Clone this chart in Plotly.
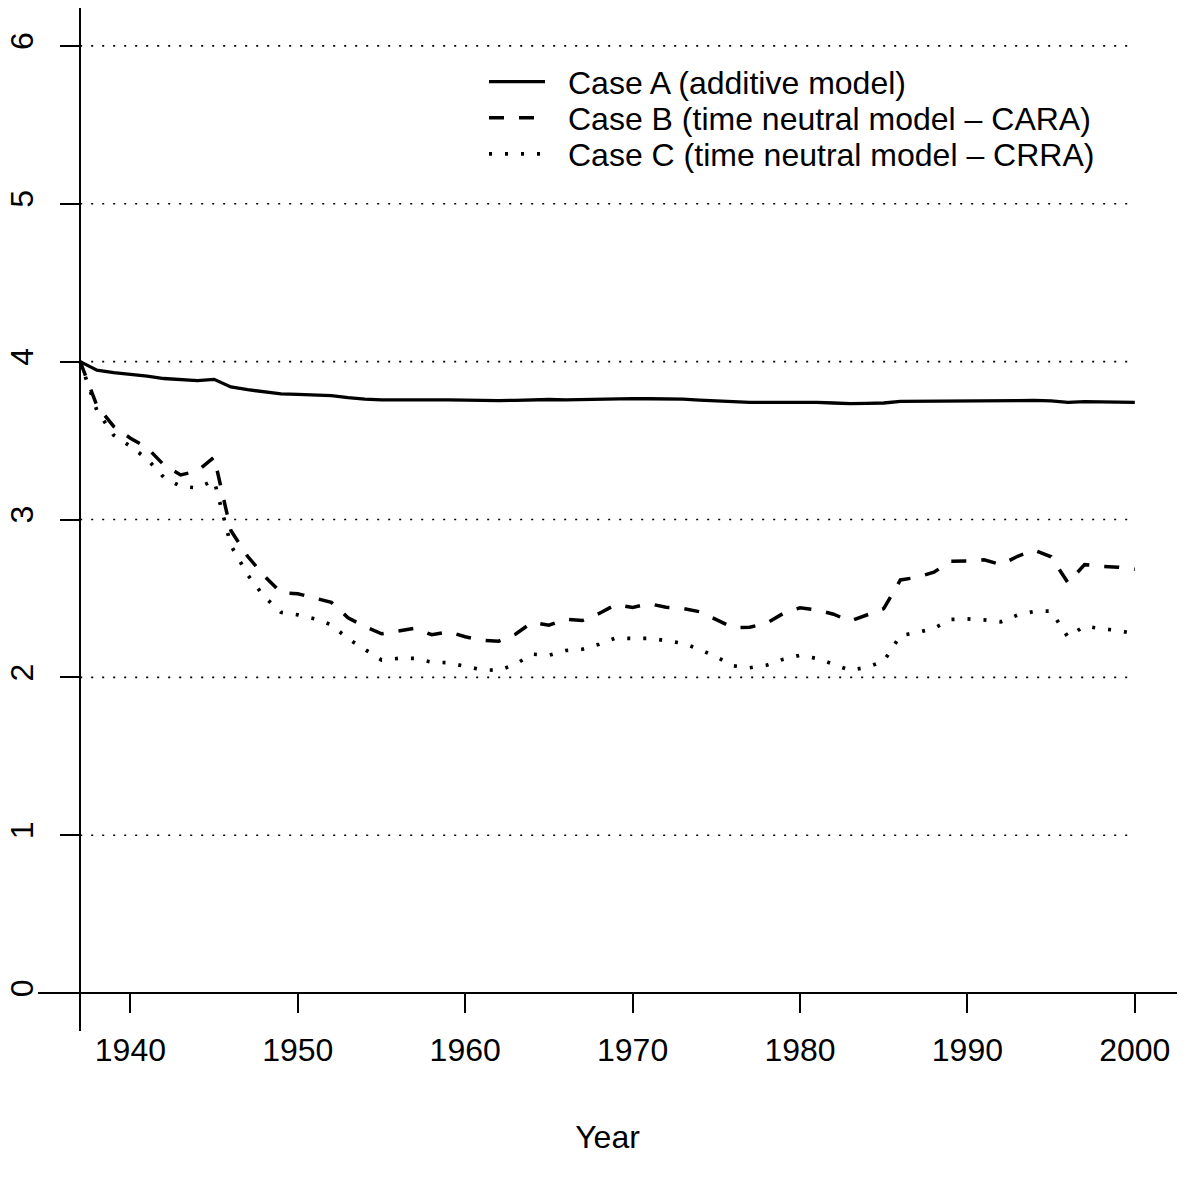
import plotly.graph_objects as go

# Annual series, 1937-2000
years = list(range(1937, 2001))

case_a = [
    4.000, 3.946, 3.930, 3.921, 3.908, 3.893, 3.885, 3.880, 3.888, 3.840,
    3.822, 3.808, 3.796, 3.792, 3.789, 3.785, 3.772, 3.762, 3.758, 3.758,
    3.762, 3.757, 3.758, 3.756, 3.753, 3.753, 3.755, 3.758, 3.760, 3.758,
    3.761, 3.764, 3.767, 3.766, 3.765, 3.764, 3.762, 3.756, 3.750, 3.744,
    3.742, 3.742, 3.743, 3.745, 3.742, 3.738, 3.734, 3.736, 3.738, 3.748,
    3.748, 3.750, 3.752, 3.751, 3.751, 3.750, 3.753, 3.754, 3.752, 3.742,
    3.747, 3.745, 3.744, 3.742,
]

case_b = [
    4.000, 3.720, 3.590, 3.515, 3.455, 3.345, 3.282, 3.307, 3.395, 2.930,
    2.767, 2.642, 2.536, 2.530, 2.503, 2.475, 2.378, 2.322, 2.276, 2.292,
    2.311, 2.270, 2.289, 2.257, 2.235, 2.229, 2.273, 2.349, 2.330, 2.368,
    2.360, 2.405, 2.461, 2.443, 2.466, 2.444, 2.436, 2.416, 2.368, 2.315,
    2.318, 2.343, 2.405, 2.441, 2.428, 2.400, 2.356, 2.394, 2.435, 2.617,
    2.634, 2.666, 2.736, 2.738, 2.745, 2.714, 2.767, 2.806, 2.764, 2.600,
    2.714, 2.704, 2.698, 2.685,
]

case_c = [
    4.000, 3.690, 3.534, 3.464, 3.383, 3.266, 3.210, 3.200, 3.248, 2.837,
    2.650, 2.510, 2.412, 2.396, 2.371, 2.333, 2.245, 2.175, 2.110, 2.120,
    2.120, 2.096, 2.093, 2.070, 2.048, 2.045, 2.083, 2.147, 2.140, 2.170,
    2.178, 2.210, 2.250, 2.246, 2.248, 2.232, 2.216, 2.177, 2.130, 2.073,
    2.061, 2.077, 2.115, 2.140, 2.120, 2.083, 2.045, 2.064, 2.102, 2.265,
    2.284, 2.310, 2.367, 2.370, 2.364, 2.352, 2.395, 2.418, 2.420, 2.256,
    2.325, 2.308, 2.297, 2.276,
]

series_names = [
    "Case A (additive model)",
    "Case B (time neutral model \u2013 CARA)",
    "Case C (time neutral model \u2013 CRRA)",
]

x_ticks = [1940, 1950, 1960, 1970, 1980, 1990, 2000]
y_ticks = [0, 1, 2, 3, 4, 5, 6]

FONT = "Liberation Sans, Arial, sans-serif"
FS = 32
W, H = 1186, 1181
M = dict(l=38, r=9, t=8, b=150)
PW = W - M["l"] - M["r"]
PH = H - M["t"] - M["b"]

# axis ranges padded by 4% on each side
x0, x1 = years[0], years[-1]
pad_x = 0.04 * (x1 - x0)
X_RANGE = [x0 - pad_x, x1 + pad_x]
y0, y1 = y_ticks[0], y_ticks[-1]
pad_y = 0.04 * (y1 - y0)
Y_RANGE = [y0 - pad_y, y1 + pad_y]


def px_x(px):
    return (px - M["l"]) / PW


def px_y(py):
    return 1 - (py - M["t"]) / PH


styles = [
    dict(color="black", width=3.3, dash="solid"),
    dict(color="black", width=3.5, dash="15px,15px"),
    dict(color="black", width=3.7, dash="3px,13px"),
]

fig = go.Figure()
for name, vals, st in zip(series_names, [case_a, case_b, case_c], styles):
    fig.add_trace(go.Scatter(x=years, y=vals, mode="lines", name=name,
                             line=st, showlegend=False))

shapes = []
# dotted reference lines at every tick level over the data span
for v in y_ticks:
    shapes.append(dict(type="line", xref="x", yref="y", x0=x0, x1=x1, y0=v, y1=v,
                       line=dict(color="black", width=1.6, dash="2px,9px"), layer="below"))

# legend key
legend_rows = [81.7, 117.7, 153.8]
for name, st, ry in zip(series_names, styles, legend_rows):
    shapes.append(dict(type="line", xref="paper", yref="paper",
                       x0=px_x(489), x1=px_x(545), y0=px_y(ry), y1=px_y(ry),
                       line=st))

annotations = []
for name, ry in zip(series_names, legend_rows):
    annotations.append(dict(xref="paper", yref="paper", x=px_x(566), y=px_y(ry + 1),
                            xanchor="left", yanchor="middle", showarrow=False,
                            text=name, font=dict(family=FONT, size=FS, color="black")))

fig.update_layout(
    width=W, height=H, autosize=False,
    margin=M,
    paper_bgcolor="white", plot_bgcolor="white",
    font=dict(family=FONT, size=FS, color="black"),
    shapes=shapes,
    annotations=annotations,
    xaxis=dict(
        range=X_RANGE, anchor="free", automargin=False,
        position=(0 - Y_RANGE[0]) / (Y_RANGE[1] - Y_RANGE[0]),
        showgrid=False, zeroline=False,
        showline=True, linecolor="black", linewidth=1.5,
        tickmode="array", tickvals=x_ticks,
        ticks="outside", ticklen=19, tickwidth=1.6, tickcolor="black",
        ticklabelstandoff=10,
        tickfont=dict(family=FONT, size=FS, color="black"),
        title=dict(text="Year", font=dict(family=FONT, size=FS, color="black"), standoff=57),
    ),
    yaxis=dict(
        range=Y_RANGE, anchor="free", automargin=False,
        position=(x0 - X_RANGE[0]) / (X_RANGE[1] - X_RANGE[0]),
        showgrid=False, zeroline=False,
        showline=True, linecolor="black", linewidth=1.5,
        tickmode="array", tickvals=y_ticks,
        ticks="outside", ticklen=19, tickwidth=1.6, tickcolor="black",
        tickangle=-90,
        ticklabelstandoff=15,
        tickfont=dict(family=FONT, size=FS, color="black"),
    ),
)

fig.write_html("out.html")
